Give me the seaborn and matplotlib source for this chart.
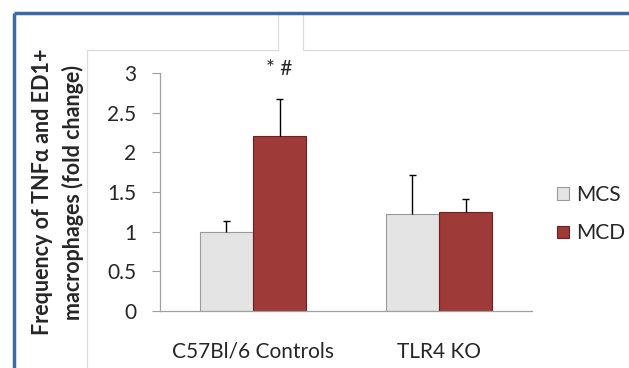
import numpy as np
import pandas as pd
import seaborn as sns
import matplotlib.pyplot as plt
from matplotlib.lines import Line2D

sns.set_theme(style="white")
plt.rcParams['font.family'] = ['Lato', 'DejaVu Sans']

groups = ["C57Bl/6 Controls", "TLR4 KO"]
diets = ["MCS", "MCD"]
mcs_vals = [1.0, 1.22]
mcd_vals = [2.21, 1.25]
mcs_err = [0.13, 0.49]
mcd_err = [0.46, 0.16]
colors = {"MCS": "#E4E4E4", "MCD": "#9E3A37"}

data = pd.DataFrame({
    "group": groups * 2,
    "diet": ["MCS"] * 2 + ["MCD"] * 2,
    "value": mcs_vals + mcd_vals,
    "err": mcs_err + mcd_err,
})

fig = plt.figure(figsize=(6.29, 3.68), dpi=100)
ax = fig.add_axes([160 / 629, 1 - 311 / 368, 372 / 629, 238 / 368])

sns.barplot(data=data, x="group", y="value", hue="diet", hue_order=diets,
            order=groups, palette=colors, width=0.57, gap=0, errorbar=None,
            saturation=1, edgecolor="#9A9A9A", linewidth=0.8, ax=ax)
for p in ax.patches:
    if p.get_facecolor()[0] < 0.8:
        p.set_edgecolor("#6E2220")

# upper error bars only, placed at the bar centres
for cont, diet in zip(ax.containers, diets):
    sub = data[data["diet"] == diet].set_index("group").loc[groups]
    xs = np.array([b.get_x() + b.get_width() / 2 for b in cont])
    tops = sub["value"].values + sub["err"].values
    ax.vlines(xs, sub["value"].values, tops, color="black", lw=1, zorder=3)
    ax.hlines(tops, xs - 0.02, xs + 0.02, color="black", lw=1, zorder=3)

ax.set_ylim(0, 3)
ax.set_xlim(-0.5, 1.5)
ax.set_yticks([0, 0.5, 1, 1.5, 2, 2.5, 3])
ax.set_yticklabels(["0", "0.5", "1", "1.5", "2", "2.5", "3"])
ax.tick_params(axis="y", length=6, width=0.8, color="#A0A0A0", labelsize=15,
               pad=11, left=True)
ax.tick_params(axis="x", length=0, labelsize=15, pad=22)
for s in ["top", "right"]:
    ax.spines[s].set_visible(False)
for s in ["left", "bottom"]:
    ax.spines[s].set_color("#A0A0A0")
    ax.spines[s].set_linewidth(0.9)
ax.set_xlabel("")
ax.set_ylabel("Frequency of TNF\u03b1 and ED1+\nmacrophages (fold change)",
              fontsize=15.5, fontweight="bold", linespacing=1.5)
ax.yaxis.set_label_coords(-0.203, 0.5)

ax.text(0.14, 3.05, "* #", ha="center", va="center", fontsize=15)

handles, labels = ax.get_legend_handles_labels()
ax.legend(handles, labels, loc="center left", frameon=False, fontsize=15,
          bbox_to_anchor=(549 / 629, 1 - 214 / 368), bbox_transform=fig.transFigure,
          handlelength=0.55, handleheight=0.55, handletextpad=0.35, labelspacing=0.9,
          borderaxespad=0)

# page frame decorations
def fline(x0, y0, x1, y1, **kw):
    fig.add_artist(Line2D([x0 / 629, x1 / 629], [1 - y0 / 368, 1 - y1 / 368],
                          transform=fig.transFigure, **kw))

gray = dict(color="#DCDCDC", lw=0.9)
fline(87, 50, 278, 50, **gray)
fline(87, 50, 87, 368, **gray)
fline(278, 15, 278, 50, **gray)
fline(303, 15, 303, 50, **gray)
fline(303, 50, 629, 50, **gray)
blue = dict(color="#3C6AA3", lw=2.5, solid_capstyle="butt")
fline(14, 13, 629, 13, **blue)
fline(14, 13, 14, 368, **blue)

fig.savefig("out.png", dpi=100)
